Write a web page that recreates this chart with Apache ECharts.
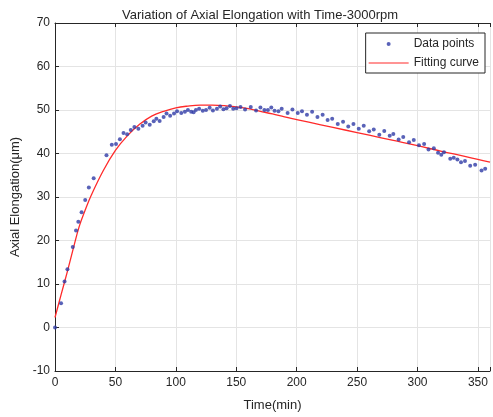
<!DOCTYPE html>
<html lang="en">
<head>
<meta charset="utf-8">
<title>Axial Elongation</title>
<script src="https://cdn.jsdelivr.net/npm/echarts@6/dist/echarts.min.js"></script>
<style>
  html, body { margin: 0; padding: 0; background: #fff; }
  #chart { width: 493px; height: 417px; }
</style>
</head>
<body>
<div id="chart"></div>
<script>
// measured points (time in min, elongation in um)
var pointTime = [0, 5, 7.9, 10.3, 14.7, 17.4, 19.3, 22, 25, 28, 32, 42.6, 47, 50.5, 53.7, 56.7, 59.7, 62.7, 65.7, 69,
  72.5, 75, 78.4, 81.7, 83.9, 86.6, 89.9, 92.3, 95.3, 98.5, 101, 104.5, 107.5, 110, 112.7, 114.7, 116.6, 119.3, 122.3, 125,
  128, 130.7, 134, 136.7, 139.4, 142, 144.8, 147.5, 150.2, 153.5, 157.3, 162, 166.4, 170, 173.3, 176.2, 179, 181.7, 184.9, 187.6,
  192.5, 196.5, 200.9, 204.4, 208.5, 212.8, 217.2, 221.5, 225.6, 229.4, 234, 238.4, 242.7, 247, 251.4, 255.5, 260, 263.8, 268.4, 272.5,
  277, 280, 284.4, 288.2, 293, 296.9, 301.2, 305.5, 309.1, 313.5, 317, 319.7, 321.9, 327.1, 330, 333, 336, 339.3, 343.6, 347.7,
  353, 356];
var pointValue = [0, 5.6, 10.6, 13.4, 18.5, 22.3, 24.3, 26.5, 29.3, 32.2, 34.3, 39.6, 42, 42.2, 43.3, 44.7, 44.4, 45.4, 46.1, 45.7,
  46.4, 47.1, 46.6, 47.4, 48, 47.5, 48.4, 49.2, 48.7, 49.2, 49.7, 49.3, 49.6, 50, 49.6, 49.5, 50, 50.3, 49.8, 50,
  50.5, 49.9, 50.3, 50.8, 50.2, 50.4, 50.9, 50.3, 50.4, 50.7, 50.1, 50.7, 49.9, 50.6, 50, 50, 50.6, 49.8, 49.7, 50.3,
  49.3, 50.1, 49.3, 49.7, 48.9, 49.6, 48.4, 48.9, 47.7, 48, 46.8, 47.3, 46.2, 46.8, 45.7, 46.4, 45.1, 45.5, 44.3, 45.2,
  44.1, 44.5, 43.2, 43.8, 42.6, 43.1, 41.9, 42.2, 40.9, 41.2, 40.2, 39.7, 40.3, 38.8, 39, 38.6, 38, 38.3, 37.2, 37.4,
  36.1, 36.5];

// fitting curve
var fitTime = [0, 5, 10, 15, 20, 25, 30, 40, 50, 60, 70, 80, 90, 100, 110, 120, 130, 140, 150, 160,
  170, 180, 190, 200, 220, 240, 260, 280, 300, 320, 340, 360];
var fitValue = [2.3, 7.5, 12.6, 18, 23.2, 27, 30.4, 36.1, 40.7, 44.1, 46.7, 48.6, 49.7, 50.5, 50.9, 51.1, 51.1, 51, 50.7, 50.3,
  49.7, 49.1, 48.4, 47.8, 46.6, 45.4, 44.2, 43, 41.8, 40.5, 39.3, 38];

var xTicks = [0, 50, 100, 150, 200, 250, 300, 350];
var yTicks = [-10, 0, 10, 20, 30, 40, 50, 60, 70];

var pts = pointTime.map(function (t, i) { return [t, pointValue[i]]; });
var fit = fitTime.map(function (t, i) { return [t, fitValue[i]]; });

var txt = '#262626';
var font = 'Liberation Sans, Arial, sans-serif';

var myChart = echarts.init(document.getElementById('chart'));
var axisCommon = {
  axisLine: { show: true, onZero: false, lineStyle: { color: '#262626', width: 1 } },
  axisTick: { show: true, inside: true, length: 4, lineStyle: { color: '#262626' } },
  splitLine: { show: true, lineStyle: { color: '#e4e4e4', width: 1 } }
};
var option = {
  animation: false,
  backgroundColor: '#fff',
  textStyle: { fontFamily: font },
  title: {
    text: 'Variation of Axial Elongation with Time-3000rpm',
    left: 117, top: 4,
    textStyle: { fontSize: 13, fontWeight: 'normal', color: txt, fontFamily: font }
  },
  legend: {
    orient: 'vertical',
    right: 8, top: 33,
    backgroundColor: '#fff',
    borderColor: '#262626', borderWidth: 1, borderRadius: 0,
    padding: [5, 6, 4, 3],
    itemWidth: 40, itemHeight: 4, itemGap: 7,
    textStyle: { fontSize: 12, color: txt, fontFamily: font },
    data: [
      { name: 'Data points', icon: 'circle' },
      { name: 'Fitting curve', icon: 'path://M0,0L40,0L40,1.2L0,1.2Z' }
    ]
  },
  grid: { left: 55, top: 23, right: -3, bottom: 44, containLabel: false },
  xAxis: [Object.assign({
    type: 'value', min: 0, max: 360, interval: 50,
    name: 'Time(min)', nameLocation: 'middle', nameGap: 28,
    nameTextStyle: { fontSize: 13, color: txt, fontFamily: font },
    axisLabel: { fontSize: 12, color: txt, margin: 6, fontFamily: font,
      formatter: function (v) { return xTicks.indexOf(v) >= 0 ? v : ''; } }
  }, axisCommon), Object.assign({
    type: 'value', min: 0, max: 360, interval: 50, position: 'top',
    axisLabel: { show: false }
  }, axisCommon, { splitLine: { show: false } })],
  yAxis: Object.assign({
    type: 'value', min: -10, max: 70, interval: 10,
    name: 'Axial Elongation(μm)', nameLocation: 'middle', nameGap: 27,
    nameTextStyle: { fontSize: 13, color: txt, fontFamily: font },
    axisLabel: { fontSize: 12, color: txt, margin: 5, fontFamily: font,
      formatter: function (v) { return yTicks.indexOf(v) >= 0 ? v : ''; } }
  }, axisCommon),
  series: [
    {
      name: 'Data points', type: 'scatter', data: pts,
      symbol: 'circle', symbolSize: 4,
      itemStyle: { color: '#2f3ba6' }, z: 3
    },
    {
      name: 'Fitting curve', type: 'line', data: fit,
      smooth: 0.4, symbol: 'none',
      lineStyle: { color: '#ff2a2a', width: 1.3 },
      itemStyle: { color: '#ff2a2a' }, z: 2
    }
  ]
};
myChart.setOption(option);
window.addEventListener('resize', function () { myChart.resize(); });
</script>
</body>
</html>
